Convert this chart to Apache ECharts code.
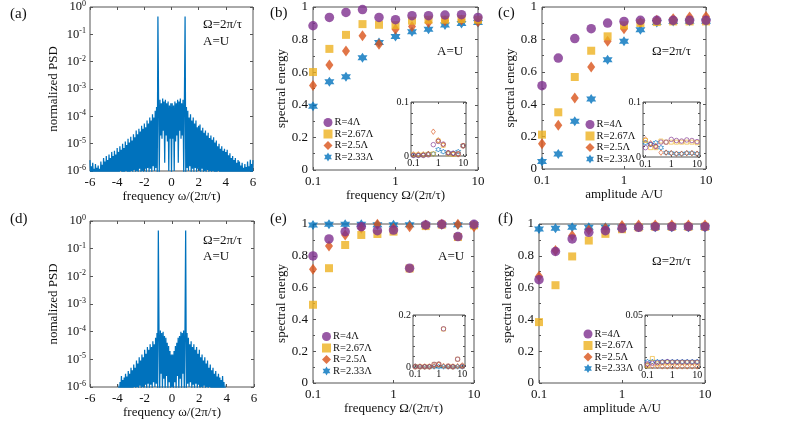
<!DOCTYPE html>
<html><head><meta charset="utf-8">
<script src="https://cdn.jsdelivr.net/npm/echarts@6/dist/echarts.min.js"></script>
<style>html,body{margin:0;padding:0;background:#fff}#c{width:788px;height:440px}</style>
</head><body><div id="c"></div>
<script>
// ---------------- DATA ----------------
const legendNames = ['R=4Λ', 'R=2.67Λ', 'R=2.5Λ', 'R=2.33Λ'];
const driveVals = [0.1, 0.158, 0.251, 0.398, 0.631, 1, 1.585, 2.512, 3.981, 6.31, 10];

// spectrum (a): PSD sampled every 0.05 from -6 to 6
const psdA = [
 2.5e-6,6e-7,1.5e-6,5e-7,2e-6,6e-7,1.2e-6,5e-7,1.8e-6,7e-7,1.3e-6,5e-7,1.6e-6,6e-7,1.2e-6,5e-7,2.2e-6,8e-7,1.7e-6,6e-7,
 3e-6,7e-7,2.2e-6,5e-7,3.5e-6,8e-7,2.5e-6,6e-7,4e-6,7e-7,3e-6,5e-7,5e-6,9e-7,3.5e-6,6e-7,5.5e-6,8e-7,4e-6,6e-7,
 7e-6,9e-7,5e-6,6e-7,8e-6,1e-6,6e-6,7e-7,1e-5,9e-7,7e-6,6e-7,1.2e-5,1e-6,9e-6,7e-7,1.5e-5,9e-7,1.1e-5,6e-7,
 1.8e-5,1e-6,1.3e-5,7e-7,2.2e-5,1.1e-6,1.7e-5,8e-7,3e-5,1e-6,2.2e-5,7e-7,3.5e-5,1.2e-6,2.8e-5,8e-7,4.5e-5,1e-6,3.5e-5,7e-7,
 5.5e-5,1.2e-6,4e-5,8e-7,7e-5,1.3e-6,5.5e-5,9e-7,9e-5,1.2e-6,7e-5,8e-7,1.2e-4,1.5e-6,9e-5,1e-6,1.6e-4,1.3e-6,2.2e-4,8e-7,
 0.45,3.5e-4,8e-7,4e-4,2e-5,3e-4,1.5e-5,4.5e-4,3e-5,3.5e-4,2e-6,4e-4,2e-5,3e-4,1.2e-5,3.5e-4,1e-6,2.5e-4,1.5e-5,3e-4,
 8e-7,3e-4,1.5e-5,2.5e-4,1e-6,3.5e-4,1.2e-5,3e-4,2e-5,4e-4,2e-6,3.5e-4,3e-5,4.5e-4,1.5e-5,3e-4,2e-5,4e-4,8e-7,3.5e-4,
 0.45,8e-7,2.2e-4,1.3e-6,1.6e-4,1e-6,9e-5,1.5e-6,1.2e-4,8e-7,7e-5,1.2e-6,9e-5,9e-7,5.5e-5,1.3e-6,7e-5,8e-7,4e-5,1.2e-6,
 4.5e-5,1e-6,5e-5,8e-7,3e-5,1.2e-6,3.8e-5,7e-7,2.5e-5,1e-6,3e-5,8e-7,2e-5,1.1e-6,2.5e-5,7e-7,1.6e-5,1e-6,2e-5,6e-7,
 1.4e-5,1e-6,1.7e-5,7e-7,1.1e-5,9e-7,1.3e-5,6e-7,8e-6,1e-6,1e-5,7e-7,6.5e-6,8e-7,8e-6,6e-7,5.5e-6,9e-7,6.5e-6,6e-7,
 5e-6,8e-7,6e-6,6e-7,3.8e-6,7e-7,4.5e-6,5e-7,3e-6,8e-7,3.5e-6,6e-7,2.5e-6,7e-7,3e-6,5e-7,2e-6,6e-7,2.5e-6,5e-7,
 2.2e-6,7e-7,1.6e-6,5e-7,2e-6,6e-7,1.3e-6,5e-7,1.8e-6,7e-7,1.4e-6,5e-7,2.2e-6,6e-7,1.5e-6,5e-7,2.6e-6,7e-7,1.8e-6,6e-7,
 2.5e-6
];
// spectrum (d)
const psdD = [
 5e-7,5e-7,5e-7,5e-7,5e-7,5e-7,5e-7,5e-7,5e-7,5e-7,5e-7,5e-7,5e-7,5e-7,5e-7,5e-7,5e-7,5e-7,5e-7,5e-7,
 5e-7,5e-7,5e-7,5e-7,5e-7,5e-7,5e-7,5e-7,5e-7,5e-7,5e-7,5e-7,5e-7,5e-7,5e-7,5e-7,5e-7,5e-7,5e-7,5e-7,
 5e-7,4e-7,8e-7,5e-7,1.5e-6,6e-7,2.5e-6,5e-7,1.8e-6,6e-7,2.2e-6,5e-7,3e-6,7e-7,2.4e-6,6e-7,3.8e-6,8e-7,3e-6,6e-7,
 5e-6,9e-7,4e-6,7e-7,6.5e-6,1e-6,5e-6,7e-7,9e-6,1e-6,7e-6,8e-7,1.2e-5,1.1e-6,9e-6,8e-7,1.5e-5,1e-6,1.2e-5,7e-7,
 2.2e-5,1.2e-6,1.6e-5,8e-7,2.8e-5,1.3e-6,2.2e-5,9e-7,3.5e-5,1.2e-6,2.8e-5,8e-7,4.5e-5,1.5e-6,3.5e-5,1e-6,6e-5,1.3e-6,9e-5,8e-7,
 0.45,1e-4,6e-7,1.1e-4,3e-6,9e-5,8e-7,1e-4,2e-6,7e-5,6e-7,6e-5,2.5e-6,4e-5,7e-7,3e-5,1.5e-6,2e-5,6e-7,1.5e-5,
 1e-6,1.5e-5,6e-7,2e-5,1.5e-6,3e-5,7e-7,4e-5,2.5e-6,6e-5,6e-7,7e-5,2e-6,1e-4,8e-7,9e-5,3e-6,1.1e-4,6e-7,1e-4,
 0.45,8e-7,9e-5,1.3e-6,6e-5,1e-6,3.5e-5,1.5e-6,4.5e-5,8e-7,2.8e-5,1.2e-6,3.5e-5,9e-7,2.2e-5,1.3e-6,2.8e-5,8e-7,1.6e-5,1.2e-6,
 2.2e-5,7e-7,1.2e-5,1e-6,1.5e-5,8e-7,9e-6,1.1e-6,1.2e-5,8e-7,7e-6,1e-6,9e-6,7e-7,5e-6,1e-6,6.5e-6,7e-7,4e-6,9e-7,
 5e-6,6e-7,3e-6,8e-7,3.8e-6,6e-7,2.4e-6,7e-7,3e-6,5e-7,2.2e-6,6e-7,1.8e-6,5e-7,2.5e-6,6e-7,1.5e-6,5e-7,8e-7,4e-7,
 5e-7,5e-7,5e-7,5e-7,5e-7,5e-7,5e-7,5e-7,5e-7,5e-7,5e-7,5e-7,5e-7,5e-7,5e-7,5e-7,5e-7,5e-7,5e-7,5e-7,
 5e-7,5e-7,5e-7,5e-7,5e-7,5e-7,5e-7,5e-7,5e-7,5e-7,5e-7,5e-7,5e-7,5e-7,5e-7,5e-7,5e-7,5e-7,5e-7,5e-7,
 5e-7
];

// (b) spectral energy vs frequency, A=U
const b_R4   = [0.885,0.936,0.967,0.984,0.936,0.922,0.947,0.947,0.951,0.953,0.936];
const b_R267 = [0.601,0.743,0.829,0.895,0.891,0.889,0.916,0.922,0.922,0.926,0.922];
const b_R25  = [0.519,0.644,0.730,0.823,0.772,0.864,0.881,0.905,0.916,0.920,0.909];
const b_R233 = [0.391,0.541,0.572,0.689,0.782,0.819,0.848,0.864,0.889,0.899,0.905];
// (c) spectral energy vs amplitude
const c_R4   = [0.514,0.685,0.805,0.866,0.901,0.911,0.918,0.918,0.918,0.918,0.918];
const c_R267 = [0.212,0.350,0.568,0.730,0.819,0.887,0.901,0.907,0.911,0.911,0.911];
const c_R25  = [0.156,0.270,0.438,0.630,0.788,0.866,0.905,0.918,0.928,0.938,0.942];
const c_R233 = [0.047,0.093,0.294,0.432,0.675,0.788,0.860,0.905,0.910,0.912,0.912];
// (e)
const e_R4   = [0.799,0.906,0.952,0.983,0.958,0.962,0.722,0.994,0.998,0.921,0.998];
const e_R267 = [0.492,0.722,0.868,0.931,0.937,0.952,0.720,0.987,0.996,0.918,0.992];
const e_R25  = [0.715,0.862,0.931,0.973,0.998,0.973,0.983,0.994,0.998,0.998,0.983];
const e_R233 = [0.994,0.998,0.998,0.998,0.996,0.996,0.996,0.996,0.996,0.996,0.996];
// (f)
const f_R4   = [0.650,0.827,0.906,0.948,0.958,0.973,0.979,0.983,0.983,0.983,0.983];
const f_R267 = [0.383,0.615,0.796,0.896,0.938,0.967,0.979,0.983,0.983,0.983,0.983];
const f_R25  = [0.671,0.833,0.927,0.963,0.973,0.990,0.994,0.994,0.994,0.994,0.994];
const f_R233 = [0.969,0.973,0.979,0.979,0.979,0.980,0.980,0.980,0.980,0.980,0.980];
// insets (residual energy)
const bIn_R4   = [0.001,0.001,0.001,0.002,0.021,0.027,0.022,0.006,0.005,0.004,0.019];
const bIn_R267 = [0.002,0.002,0.002,0.003,0.004,0.028,0.020,0.004,0.003,0.004,0.019];
const bIn_R25  = [0.003,0.003,0.003,0.004,0.045,0.029,0.021,0.006,0.004,0.003,0.019];
const bIn_R233 = [0.001,0.001,0.002,0.004,0.004,0.012,0.008,0.005,0.005,0.008,0.019];
const cIn_R4   = [0.017,0.023,0.019,0.027,0.027,0.032,0.030,0.029,0.031,0.030,0.028];
const cIn_R267 = [0.030,0.017,0.017,0.029,0.027,0.027,0.027,0.027,0.027,0.027,0.026];
const cIn_R25  = [0.032,0.025,0.020,0.008,0.008,0.007,0.006,0.006,0.007,0.007,0.006];
const cIn_R233 = [0.026,0.023,0.026,0.017,0.008,0.007,0.006,0.006,0.007,0.007,0.006];
const eIn_R4   = [0.001,0.001,0.001,0.001,0.010,0.011,0.147,0.003,0.001,0.030,0.003];
const eIn_R267 = [0.001,0.001,0.001,0.001,0.010,0.010,0.146,0.003,0.001,0.030,0.003];
const eIn_R25  = [0.002,0.002,0.002,0.002,0.004,0.010,0.004,0.002,0.002,0.003,0.006];
const eIn_R233 = [0.003,0.001,0.001,0.001,0.001,0.001,0.001,0.001,0.001,0.001,0.001];
const fIn_R4   = [0.0040,0.0045,0.0050,0.0055,0.0060,0.0055,0.0055,0.0055,0.0055,0.0055,0.0055];
const fIn_R267 = [0.0020,0.0090,0.0040,0.0050,0.0050,0.0050,0.0050,0.0050,0.0050,0.0050,0.0050];
const fIn_R25  = [0.0030,0.0020,0.0020,0.0015,0.0015,0.0015,0.0015,0.0015,0.0015,0.0015,0.0015];
const fIn_R233 = [0.0060,0.0060,0.0060,0.0060,0.0060,0.0060,0.0060,0.0060,0.0060,0.0060,0.0060];

// ---------------- BUILD ----------------
const freqGrid = [];
for (let i = 0; i < psdA.length; i++) freqGrid.push(+(-6 + i * 0.05).toFixed(2));

const FONT = '"Liberation Serif","Times New Roman",serif';
const AX = '#555';
const TXT = '#111';
const STAR = 'path://M0,-10L2.89,-5L8.66,-5L5.77,0L8.66,5L2.89,5L0,10L-2.89,5L-8.66,5L-5.77,0L-8.66,-5L-2.89,-5Z';
const COL = {R4:'#7E2F8E', R267:'#EDB120', R25:'#D95319', R233:'#0072BD'};

const grids = [
  {left:90,  top:5,   width:163, height:166}, // a
  {left:313, top:7,   width:165, height:163}, // b
  {left:542, top:7,   width:164, height:162}, // c
  {left:90,  top:221, width:164, height:166}, // d
  {left:313, top:224, width:161, height:159}, // e
  {left:539, top:224, width:166, height:159}, // f
  {left:411, top:102, width:55,  height:54},  // inset b
  {left:643, top:102, width:57,  height:55},  // inset c
  {left:413, top:315, width:52,  height:52},  // inset e
  {left:645, top:315, width:55,  height:53}   // inset f
].map((g, i) => Object.assign({show:true, borderColor:AX, borderWidth:1,
  backgroundColor: i >= 6 ? '#fff' : 'transparent', containLabel:false}, g));

const xAxis = [], yAxis = [];
function tick(len){ return {show:true, inside:true, length:len, lineStyle:{color:AX, width:1}}; }
function addAxes(gi, xo, yo, small) {
  const xi = xAxis.length, yi = yAxis.length;
  const base = {gridIndex:gi, axisLine:{show:false, onZero:false}, splitLine:{show:false}, axisTick:tick(small?2:3)};
  xAxis.push(Object.assign({}, base, {position:'bottom'}, xo));
  xAxis.push(Object.assign({}, base, {position:'top'}, xo, {name:'', axisLabel:{show:false}}));
  yAxis.push(Object.assign({}, base, {position:'left'}, yo));
  yAxis.push(Object.assign({}, base, {position:'right'}, yo, {name:'', axisLabel:{show:false}}));
  return [xi, yi];
}
const lbl = (size, margin) => ({color:TXT, fontFamily:FONT, fontSize:size, margin:margin});
const nameStyle = {color:TXT, fontFamily:FONT, fontSize:13};

function psdY(name, gap) {
  return {type:'log', logBase:10, min:1e-6, max:1, name:name, nameLocation:'middle', nameGap:gap,
    nameTextStyle:nameStyle,
    axisLabel: Object.assign(lbl(12.5, 4), {
      formatter: v => '10{s|' + Math.round(Math.log10(v)) + '}',
      lineHeight: 14,
      rich: {s:{fontSize:8, lineHeight:8, verticalAlign:'top', fontFamily:FONT, color:TXT}}
    })};
}
function freqX(name) {
  return {type:'value', min:-6, max:6, interval:2, name:name, nameLocation:'middle', nameGap:8,
    nameTextStyle:nameStyle, axisLabel:lbl(13, 5)};
}
function logX(name) {
  return {type:'log', logBase:10, min:0.1, max:10, name:name, nameLocation:'middle', nameGap:8,
    nameTextStyle:nameStyle, axisLabel:lbl(13, 5)};
}
function energyY(gap) {
  return {type:'value', min:0, max:1, interval:0.2, name:'spectral energy', nameLocation:'middle',
    nameGap:gap, nameTextStyle:nameStyle, axisLabel:lbl(13, 5),
    minorTick:{show:true, splitNumber:2, length:2, lineStyle:{color:AX}}};
}
function insetX() {
  return {type:'log', logBase:10, min:0.08, max:13,
    axisLabel: Object.assign(lbl(10, 2), {formatter: v => {
      const e = Math.round(Math.log10(v));
      if (Math.abs(Math.log10(v) - e) > 1e-6) return '';
      return ['0.1','1','10'][e + 1] || '';
    }})};
}
function insetY(max) {
  return {type:'value', min:0, max:max, interval:max, axisLabel:lbl(10, 2),
    minorTick:{show:true, splitNumber:5, length:2, lineStyle:{color:AX}}};
}

const axA = addAxes(0, freqX('frequency ω/(2π/τ)'), psdY('normalized PSD', 30));
const axB = addAxes(1, logX('frequency Ω/(2π/τ)'), energyY(25));
const axC = addAxes(2, logX('amplitude A/U'), energyY(25));
const axD = addAxes(3, freqX('frequency ω/(2π/τ)'), psdY('nomalized PSD', 30));
const axE = addAxes(4, logX('frequency Ω/(2π/τ)'), energyY(25));
const axF = addAxes(5, logX('amplitude A/U'), energyY(25));
const axBi = addAxes(6, insetX(), insetY(0.1), true);
const axCi = addAxes(7, insetX(), insetY(0.1), true);
const axEi = addAxes(8, insetX(), insetY(0.2), true);
const axFi = addAxes(9, insetX(), insetY(0.05), true);

const series = [];
function spectrum(ax, vals) {
  series.push({type:'line', xAxisIndex:ax[0], yAxisIndex:ax[1], showSymbol:false, symbol:'none',
    clip:true, silent:true, lineStyle:{color:'#0072BD', width:1.25, join:'miter'},
    data: freqGrid.map((f, i) => [f, vals[i]])});
}
spectrum(axA, psdA);
spectrum(axD, psdD);

const markerDefs = [ // drawing order: blue, orange, yellow, purple (purple on top)
  {key:'R233', name:legendNames[3], symbol:STAR, size:10, small:5},
  {key:'R25',  name:legendNames[2], symbol:'diamond', size:[8,11], small:[4,5.5]},
  {key:'R267', name:legendNames[1], symbol:'rect', size:8, small:4},
  {key:'R4',   name:legendNames[0], symbol:'circle', size:9.5, small:4.5}
];
function scatterSet(ax, sets, hollow) {
  markerDefs.forEach(m => {
    series.push({type:'scatter', name:m.name, xAxisIndex:ax[0], yAxisIndex:ax[1],
      symbol:m.symbol, symbolSize: hollow ? m.small : m.size,
      itemStyle: hollow ? {color:'rgba(0,0,0,0)', borderColor:COL[m.key], borderWidth:0.8}
                        : {color:COL[m.key]},
      data: driveVals.map((x, i) => [x, sets[m.key][i]])});
  });
}
scatterSet(axB, {R4:b_R4, R267:b_R267, R25:b_R25, R233:b_R233}, false);
scatterSet(axC, {R4:c_R4, R267:c_R267, R25:c_R25, R233:c_R233}, false);
scatterSet(axE, {R4:e_R4, R267:e_R267, R25:e_R25, R233:e_R233}, false);
scatterSet(axF, {R4:f_R4, R267:f_R267, R25:f_R25, R233:f_R233}, false);
scatterSet(axBi, {R4:bIn_R4, R267:bIn_R267, R25:bIn_R25, R233:bIn_R233}, true);
scatterSet(axCi, {R4:cIn_R4, R267:cIn_R267, R25:cIn_R25, R233:cIn_R233}, true);
scatterSet(axEi, {R4:eIn_R4, R267:eIn_R267, R25:eIn_R25, R233:eIn_R233}, true);
scatterSet(axFi, {R4:fIn_R4, R267:fIn_R267, R25:fIn_R25, R233:fIn_R233}, true);

function legendAt(left, top) {
  return {left:left, top:top, orient:'vertical', padding:0, itemGap:0.5, itemWidth:9, itemHeight:9,
    selectedMode:false, data:legendNames,
    textStyle:{fontFamily:FONT, fontSize:10.5, color:TXT, lineHeight:10, padding:[0,0,0,-3]}};
}

function txt(x, y, s, size) {
  return {type:'text', x:x, y:y, silent:true,
    style:{text:s, fontFamily:FONT, fontSize:size || 13, fill:TXT, verticalAlign:'middle'}};
}

const option = {
  animation:false,
  backgroundColor:'#fff',
  grid:grids, xAxis:xAxis, yAxis:yAxis, series:series,
  legend:[legendAt(323.5, 117), legendAt(585.5, 119), legendAt(322, 331), legendAt(583.5, 328.5)],
  graphic:[
    txt(10, 14, '(a)', 15), txt(270, 13, '(b)', 15), txt(498, 13, '(c)', 15),
    txt(10, 219, '(d)', 15), txt(270, 219, '(e)', 15), txt(498, 219, '(f)', 15),
    txt(203, 25, 'Ω=2π/τ'), txt(203, 42, 'A=U'),
    txt(203, 241, 'Ω=2π/τ'), txt(203, 257, 'A=U'),
    txt(437, 52, 'A=U'), txt(438, 257, 'A=U'),
    txt(652, 52, 'Ω=2π/τ'), txt(652, 262, 'Ω=2π/τ')
  ]
};
const chart = echarts.init(document.getElementById('c'), null, {renderer:'canvas'});
chart.setOption(option);
</script>
</body></html>
